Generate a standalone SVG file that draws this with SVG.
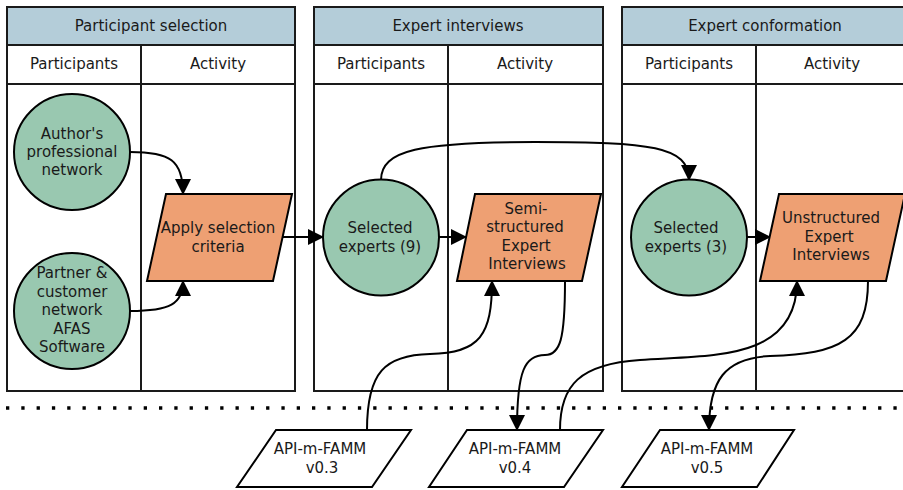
<svg xmlns="http://www.w3.org/2000/svg" width="903" height="490" viewBox="0 0 903 490">
  <style>
    text { font-family: "DejaVu Sans", Verdana, sans-serif; font-size: 15px; fill: #1a1a1a; text-anchor: middle; dominant-baseline: central; }
    .frame { fill: #ffffff; stroke: #1a1a1a; stroke-width: 2; }
    .head { fill: #b4cdd9; stroke: #1a1a1a; stroke-width: 2; }
    .line { fill: none; stroke: #1a1a1a; stroke-width: 2; }
    .actor { fill: #99c8b0; stroke: #000; stroke-width: 2; }
    .task { fill: #eea073; stroke: #000; stroke-width: 2; }
    .doc { fill: #ffffff; stroke: #000; stroke-width: 2; }
    .conn { fill: none; stroke: #000; stroke-width: 2; }
    .arr { marker-end: url(#tip); }
  </style>
  <defs>
    <marker id="tip" markerUnits="userSpaceOnUse" markerWidth="16" markerHeight="16" viewBox="0 0 16 16" refX="15" refY="8" orient="auto">
      <path d="M0,0 L16,8 L0,16 Z" fill="#000"/>
    </marker>
  </defs>

  <!-- Lanes -->
  <g id="pool-selection">
    <rect class="frame" x="7" y="7" width="288" height="384"/>
    <rect class="head" x="7" y="7" width="288" height="38"/>
    <line class="line" x1="7" y1="84" x2="295" y2="84"/>
    <line class="line" x1="141" y1="45" x2="141" y2="391"/>
    <text x="151" y="26">Participant selection</text>
    <text x="74" y="64">Participants</text>
    <text x="218" y="64">Activity</text>
  </g>
  <g id="pool-interviews">
    <rect class="frame" x="314" y="7" width="289" height="384"/>
    <rect class="head" x="314" y="7" width="289" height="38"/>
    <line class="line" x1="314" y1="84" x2="603" y2="84"/>
    <line class="line" x1="448" y1="45" x2="448" y2="391"/>
    <text x="458" y="26">Expert interviews</text>
    <text x="381" y="64">Participants</text>
    <text x="525" y="64">Activity</text>
  </g>
  <g id="pool-conformation">
    <rect class="frame" x="622" y="7" width="289" height="384"/>
    <rect class="head" x="622" y="7" width="289" height="38"/>
    <line class="line" x1="622" y1="84" x2="911" y2="84"/>
    <line class="line" x1="756" y1="45" x2="756" y2="391"/>
    <text x="765" y="26">Expert conformation</text>
    <text x="689" y="64">Participants</text>
    <text x="832" y="64">Activity</text>
  </g>

  <!-- Separator -->
  <line x1="6" y1="408" x2="903" y2="408" stroke="#000" stroke-width="3.3" stroke-dasharray="3.3 12"/>

  <!-- Connectors -->
  <g id="connectors">
    <path class="conn arr" d="M130,152 C170,152 183,160 183,194"/>
    <path class="conn arr" d="M130,311 C170,311 183,304 183,281"/>
    <path class="conn arr" d="M282,237 L323,237"/>
    <path class="conn arr" d="M439,237 L466,237"/>
    <path class="conn arr" d="M381,180 C381,150 420,142 535,142 C650,142 689,146 689,180"/>
    <path class="conn arr" d="M747,237 L770,237"/>
    <path class="conn arr" d="M367,430 C367,372 385,355 430,354 C480,353 492,335 492,281"/>
    <path class="conn arr" d="M565,281 C565,340 560,355 545,355 C525,355 517,370 517,430"/>
    <path class="conn arr" d="M560,430 C560,385 580,364 640,360 C710,355 797,362 797,281"/>
    <path class="conn arr" d="M868,281 C868,340 840,354 770,356 C725,358 709,380 709,430"/>
  </g>

  <!-- Participant nodes -->
  <g id="authors-network">
    <circle class="actor" cx="72" cy="152" r="58"/>
    <text x="72" y="134">Author's</text>
    <text x="72" y="152">professional</text>
    <text x="72" y="170">network</text>
  </g>
  <g id="partner-network">
    <circle class="actor" cx="72" cy="311" r="58"/>
    <text x="72" y="273">Partner &amp;</text>
    <text x="72" y="291.5">customer</text>
    <text x="72" y="310">network</text>
    <text x="72" y="328.5">AFAS</text>
    <text x="72" y="347">Software</text>
  </g>
  <g id="selected-9">
    <circle class="actor" cx="381" cy="237.5" r="58"/>
    <text x="380" y="228">Selected</text>
    <text x="380" y="247">experts (9)</text>
  </g>
  <g id="selected-3">
    <circle class="actor" cx="689" cy="237.5" r="58"/>
    <text x="686" y="228">Selected</text>
    <text x="686" y="247">experts (3)</text>
  </g>

  <!-- Activities -->
  <g id="apply-criteria">
    <polygon class="task" points="166,194 292,194 273,281 147,281"/>
    <text x="218" y="228">Apply selection</text>
    <text x="218" y="247">criteria</text>
  </g>
  <g id="semi-structured">
    <polygon class="task" points="475,194 601,194 582,281 457,281"/>
    <text x="526" y="208.5">Semi-</text>
    <text x="525" y="227">structured</text>
    <text x="526" y="246">Expert</text>
    <text x="527" y="264">Interviews</text>
  </g>
  <g id="unstructured">
    <polygon class="task" points="779,194 905,194 886,281 760,281"/>
    <text x="831" y="218">Unstructured</text>
    <text x="829" y="237">Expert</text>
    <text x="831" y="255">Interviews</text>
  </g>

  <!-- Model versions -->
  <g id="famm-v03">
    <polygon class="doc" points="276,430 411,430 372,487 237,487"/>
    <text x="320" y="449">API-m-FAMM</text>
    <text x="322" y="468">v0.3</text>
  </g>
  <g id="famm-v04">
    <polygon class="doc" points="467,430 603,430 564,487 429,487"/>
    <text x="515" y="449">API-m-FAMM</text>
    <text x="515" y="468">v0.4</text>
  </g>
  <g id="famm-v05">
    <polygon class="doc" points="660,430 794,430 757,487 622,487"/>
    <text x="707" y="449">API-m-FAMM</text>
    <text x="707" y="468">v0.5</text>
  </g>
</svg>
